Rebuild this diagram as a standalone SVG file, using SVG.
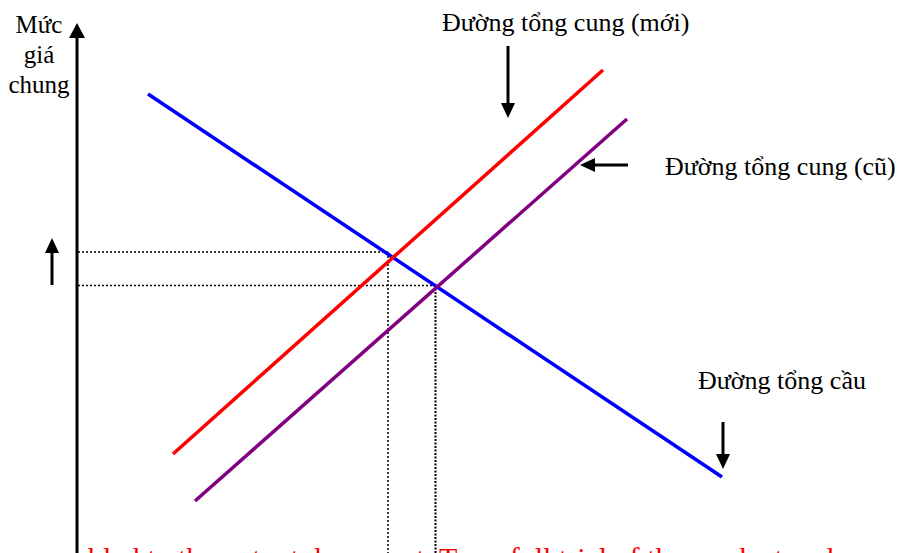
<svg xmlns="http://www.w3.org/2000/svg" width="899" height="553" viewBox="0 0 899 553">
<defs>
<marker id="ah" markerWidth="14" markerHeight="16" refX="7" refY="15" orient="auto-start-reverse" markerUnits="userSpaceOnUse" viewBox="0 0 14 16">
<path d="M0,0 L14,0 L7,16 Z" fill="#000"/>
</marker>
<style>
.lbl{font-family:"Liberation Serif","Times New Roman",serif;font-size:26px;fill:#000}
.ax{font-family:"Liberation Serif","Times New Roman",serif;font-size:25px;fill:#000;text-anchor:middle}
.ptr{stroke:#000;stroke-width:3;fill:none}
.dot{stroke:#000;stroke-width:1.5;stroke-dasharray:2 2;fill:none}
.dot2{stroke:#000;stroke-width:2;stroke-dasharray:2 1.5;fill:none}
.wm{font-family:"Liberation Serif","Times New Roman",serif;font-size:30px;fill:#FF0000}
</style>
</defs>
<rect width="899" height="553" fill="#fff"/>
<g id="axis">
<line x1="77" y1="553" x2="77" y2="36" stroke="#000" stroke-width="3"/>
<path d="M69,38 L85,38 L77,23 Z" fill="#000"/>
<text class="ax" x="39" y="33">Mức</text>
<text class="ax" x="39" y="63">giá</text>
<text class="ax" x="39" y="93">chung</text>
</g>
<g id="guides">
<line class="dot" x1="78" y1="252" x2="390" y2="252"/>
<line class="dot" x1="78" y1="285.5" x2="437" y2="285.5"/>
<line class="dot" x1="388" y1="252" x2="388" y2="553"/>
<line class="dot2" x1="435.5" y1="285" x2="435.5" y2="553"/>
</g>
<g id="demand">
<line x1="148" y1="94" x2="722" y2="477" stroke="#0000FF" stroke-width="3.5"/>
<text class="lbl" x="698" y="389">Đường tổng cầu</text>
</g>
<g id="supply-new">
<line x1="173" y1="454" x2="603" y2="70" stroke="#FF0000" stroke-width="3.5"/>
<text class="lbl" x="442" y="31">Đường tổng cung (mới)</text>
</g>
<g id="supply-old">
<line x1="195" y1="501" x2="627" y2="119" stroke="#800080" stroke-width="3.5"/>
<text class="lbl" x="665" y="175">Đường tổng cung (cũ)</text>
</g>
<g id="connectors">
<line class="ptr" x1="508" y1="46" x2="508" y2="104"/>
<path d="M501,103 L515,103 L508,118 Z" fill="#000"/>
<line class="ptr" x1="628" y1="165" x2="594" y2="165"/>
<path d="M595,158 L595,172 L580,165 Z" fill="#000"/>
<line class="ptr" x1="723" y1="422" x2="723" y2="455"/>
<path d="M716,454 L730,454 L723,469 Z" fill="#000"/>
<line class="ptr" x1="52" y1="285" x2="52" y2="252"/>
<path d="M45,253 L59,253 L52,238 Z" fill="#000"/>
</g>
<text class="wm" x="88" y="568">bled to the output document. Try a full trial of the product and</text>
</svg>
